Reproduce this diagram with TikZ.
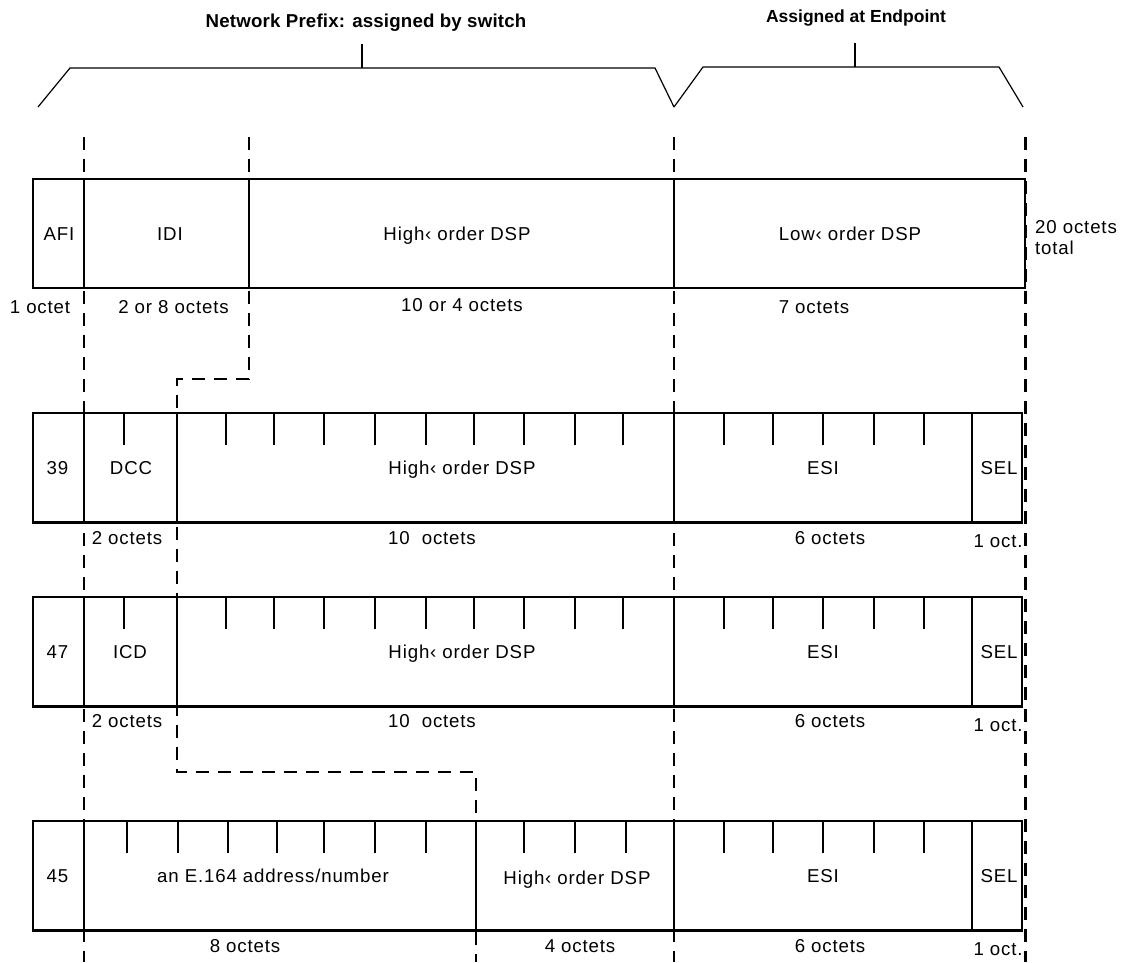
\documentclass[tikz,border=0pt]{standalone}
\usepackage{fontspec}
\setmainfont{Liberation Sans}[LetterSpace=4.5]
\newfontfamily\titlefont{Liberation Sans}[LetterSpace=1]
\newfontfamily\titlefontb{Liberation Sans}
\begin{document}
\begin{tikzpicture}[x=1pt,y=-1pt,
  lab/.style={font=\fontsize{18.67}{22}\selectfont, inner sep=0pt, anchor=base},
  ttl/.style={font=\fontsize{18.67}{22}\selectfont\titlefont\bfseries, inner sep=0pt, anchor=base},
  ttlb/.style={font=\fontsize{17.5}{21}\selectfont\titlefontb\bfseries, inner sep=0pt, anchor=base},
  box/.style={line width=2.5pt},
  thinln/.style={line width=1.2pt},
  tick/.style={line width=1.2pt},
  dsh/.style={line width=2.5pt, dash pattern=on 13pt off 9pt},
]
\useasboundingbox (0,0) rectangle (1132,962);

% titles and braces
\node[ttl] (np) at (366,27) {Network Prefix: assigned by switch};
\node[ttlb] (ae) at (856,22) {Assigned at Endpoint};
\coordinate (b1a) at (38,107); \coordinate (b1b) at (70,68);
\coordinate (b1c) at (655,68); \coordinate (b1d) at (674,107);
\coordinate (b2a) at (674,107); \coordinate (b2b) at (703,67);
\coordinate (b2c) at (999,67); \coordinate (b2d) at (1023,107);
\draw[thinln] (b1a) -- (b1b) -- (b1c) -- (b1d);
\draw[thinln] (b2a) -- (b2b) -- (b2c) -- (b2d);
\draw[thinln] (362,44) -- (362,68);
\draw[thinln] (855,43) -- (855,67);

% row 1
\draw[box] (33,179) rectangle (1025,288);
\draw[box] (84,179) -- (84,288);
\draw[box] (249,179) -- (249,288);
\draw[thinln] (674,179) -- (674,288);
\node[lab] (afi) at (59,240.5) {AFI};
\node[lab] (idi) at (170,240.5) {IDI};
\node[lab] (hd1) at (457,240.5) {High‹ order DSP};
\node[lab] (ld1) at (850,240.5) {Low‹ order DSP};
\node[lab, anchor=base west] (tot1) at (1035,233) {20 octets};
\node[lab, anchor=base west] (tot2) at (1035,254) {total};
\node[lab] (s11) at (40,313.5) {1 octet};
\node[lab] (s12) at (173.5,313.5) {2 or 8 octets};
\node[lab] (s13) at (462,311.5) {10 or 4 octets};
\node[lab] (s14) at (814,313.5) {7 octets};

% row 2
\draw[box] (33,413) rectangle (1022,522.5);
\draw[box] (84,413) -- (84,522.5);
\draw[box] (177,413) -- (177,522.5);
\draw[thinln] (674,413) -- (674,522.5);
\draw[thinln] (972,413) -- (972,522.5);
\foreach \x in {124,226,274,324,375,426,474,524,575,623,724,773,823,874,924}
  \draw[tick] (\x,413) -- (\x,445);
\node[lab] (n39) at (57.5,474.5) {39};
\node[lab] (dcc) at (131,474.5) {DCC};
\node[lab] (hd2) at (462,474.5) {High‹ order DSP};
\node[lab] (esi2) at (823,474.5) {ESI};
\node[lab] (sel2) at (999,474.5) {SEL};
\node[lab] (s21) at (127,544) {2 octets};
\node[lab] (s22) at (432,544) {10\ \ octets};
\node[lab] (s23) at (830,544) {6 octets};
\node[lab] (s24) at (998,547.5) {1 oct.};

% row 3
\draw[box] (33,597) rectangle (1022,706.5);
\draw[box] (84,597) -- (84,706.5);
\draw[box] (177,597) -- (177,706.5);
\draw[thinln] (674,597) -- (674,706.5);
\draw[thinln] (972,597) -- (972,706.5);
\foreach \x in {124,226,274,324,375,426,474,524,575,623,724,773,823,874,924}
  \draw[tick] (\x,597) -- (\x,629);
\node[lab] (n47) at (57.5,658.5) {47};
\node[lab] (icd) at (130,658.5) {ICD};
\node[lab] (hd3) at (462,658.5) {High‹ order DSP};
\node[lab] (esi3) at (823,658.5) {ESI};
\node[lab] (sel3) at (999,658.5) {SEL};
\node[lab] (s31) at (127,727.5) {2 octets};
\node[lab] (s32) at (432,727.5) {10\ \ octets};
\node[lab] (s33) at (830,727.5) {6 octets};
\node[lab] (s34) at (998,731) {1 oct.};

% row 4
\draw[box] (33,821) rectangle (1022,930.5);
\draw[box] (84,821) -- (84,930.5);
\draw[box] (476,821) -- (476,930.5);
\draw[thinln] (674,821) -- (674,930.5);
\draw[thinln] (972,821) -- (972,930.5);
\foreach \x in {127,178,228,277,324,375,426,524,575,626,724,773,823,874,924}
  \draw[tick] (\x,821) -- (\x,853);
\node[lab] (n45) at (57.5,882.5) {45};
\node[lab] (e164) at (273,882.5) {an E.164 address/number};
\node[lab] (hd4) at (577,884.5) {High‹ order DSP};
\node[lab] (esi4) at (823,882.5) {ESI};
\node[lab] (sel4) at (999,882.5) {SEL};
\node[lab] (s41) at (245,952.5) {8 octets};
\node[lab] (s42) at (580,952.5) {4 octets};
\node[lab] (s43) at (830,952.5) {6 octets};
\node[lab] (s44) at (998,955.5) {1 oct.};

% dashed boundaries
\coordinate (d1t) at (84,137);   \coordinate (d1b) at (84,962);
\coordinate (d3t) at (674,137);  \coordinate (d3b) at (674,962);
\coordinate (d4t) at (1025.5,137); \coordinate (d4b) at (1025.5,962);
\coordinate (d2t) at (249,137);  \coordinate (d2a) at (249,379);
\coordinate (d2b) at (177,379);  \coordinate (d2c) at (177,772);
\coordinate (d2d) at (476,772);  \coordinate (d2e) at (476,962);
\draw[dsh] (d1t) -- (d1b);
\draw[dsh] (d3t) -- (d3b);
\draw[dsh] (d4t) -- (d4b);
\draw[dsh] (d2t) -- (d2a) -- (d2b) -- (d2c) -- (d2d) -- (d2e);
\end{tikzpicture}
\end{document}
